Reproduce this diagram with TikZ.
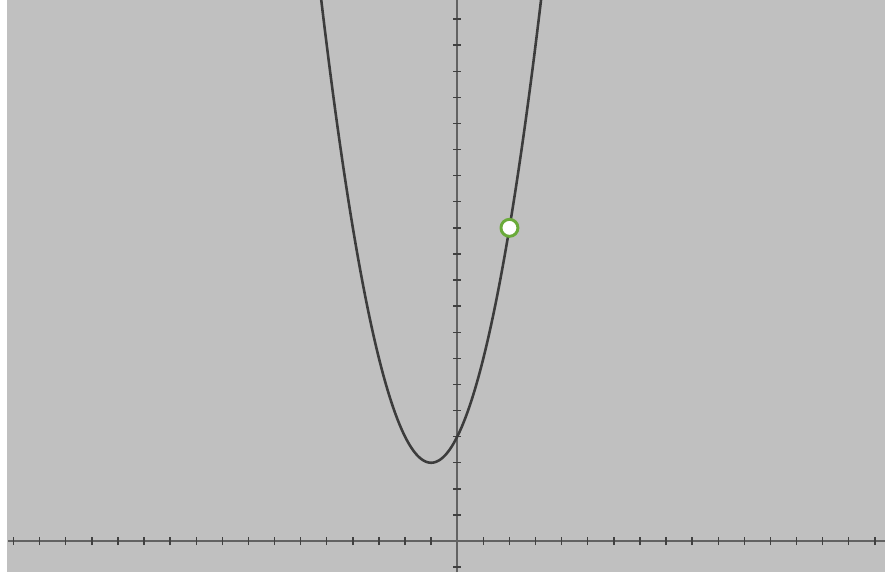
\documentclass[tikz,border=0pt]{standalone}
\usepackage{tikz}
\usetikzlibrary{arrows.meta}
\definecolor{panel}{HTML}{C0C0C0}
\definecolor{axisgray}{HTML}{626262}
\definecolor{curvegray}{HTML}{3C3C3C}
\definecolor{pointgreen}{HTML}{6AAA3A}

\begin{document}
\begin{tikzpicture}[x=0.5cm,y=0.5cm,line cap=butt,line join=round]
  \useasboundingbox (-17.52,-1.264) rectangle (16.39,20.73);
  \fill[white] (-17.52,-1.264) rectangle (16.39,20.73);
  \fill[panel] (-17.25,-1.19) rectangle (16.39,20.73);
  \begin{scope}
    \clip (-17.25,-1.19) rectangle (16.39,20.73);
    \draw[axisgray,line width=1.1pt] (-17.21,0) -- (16.39,0);
    \draw[axisgray,line width=1.1pt] (0,-1.19) -- (0,20.73);
    \foreach \k in {-17,...,-1,1,2,...,16}
      \draw[black!75,line width=0.8pt] (\k,-0.16) -- (\k,0.16);
    \foreach \k in {-1,1,2,...,20}
      \draw[black!75,line width=0.8pt] (-0.16,\k) -- (0.16,\k);
    \draw[curvegray,line width=1.4pt]
      plot[domain=-5.3:3.3,samples=200,variable=\t] ({\t},{(\t+1)^2+3});
  \end{scope}
  \coordinate (pt) at (2,12);
  \filldraw[fill=white,draw=pointgreen,line width=1.6pt] (pt) circle[radius=0.326];
\end{tikzpicture}
\end{document}
